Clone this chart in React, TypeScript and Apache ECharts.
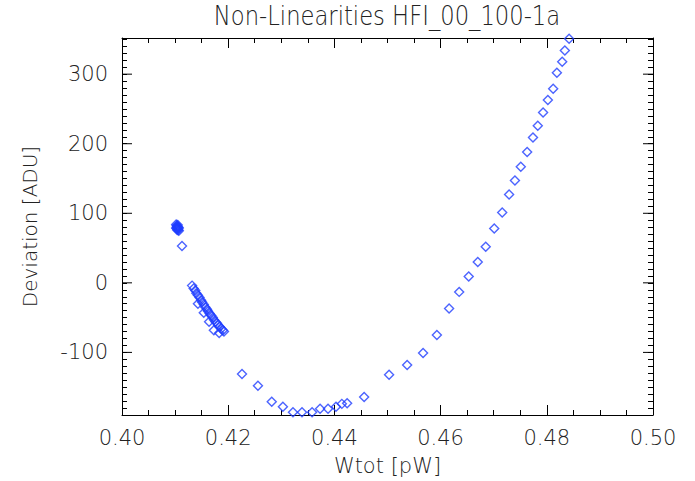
import React, { useEffect, useRef } from "react";
import * as echarts from "echarts";

const TITLE = "Non-Linearities HFI_00_100-1a";
const X_NAME = "Wtot [pW]";
const Y_NAME = "Deviation [ADU]";

const X_MIN = 0.4;
const X_MAX = 0.5;
const Y_MIN = -190;
const Y_MAX = 352;
const Y_MAJOR = [-100, 0, 100, 200, 300];

// dense (filled-looking) clump near 0.410
const clumpX = [0.4102, 0.4103, 0.4104, 0.4105, 0.4106, 0.4107, 0.4103, 0.4105, 0.4106, 0.4104, 0.4102, 0.4107, 0.4104];
const clumpY = [84, 82, 80, 78, 76, 75, 78, 83, 80, 76, 79, 79, 81];

// steep diagonal stack
const stackX = [0.4113, 0.4132, 0.4135, 0.4138, 0.414, 0.4143, 0.4146, 0.4149, 0.4151, 0.4154, 0.4157, 0.416, 0.4162, 0.4165, 0.4168, 0.4171, 0.4173, 0.4176, 0.4179, 0.4181, 0.4184, 0.4187, 0.419, 0.4192, 0.4143, 0.4154, 0.4164, 0.4173, 0.4183];
const stackY = [53, -4, -8, -11, -15, -18, -21, -25, -28, -31, -35, -38, -41, -44, -47, -50, -53, -56, -58, -61, -63, -66, -68, -70, -30, -43, -56, -68, -72];

// parabola branch
const curveX = [0.4226, 0.4256, 0.4282, 0.4303, 0.4322, 0.4339, 0.4358, 0.4373, 0.4388, 0.4403, 0.4414, 0.4424, 0.4456, 0.4503, 0.4537, 0.4567, 0.4593, 0.4616, 0.4635, 0.4653, 0.467, 0.4685, 0.4701, 0.4716, 0.4729, 0.474, 0.4751, 0.4763, 0.4774, 0.4783, 0.4793, 0.4802, 0.4812, 0.4819, 0.4829, 0.4834, 0.4842];
const curveY = [-131, -148, -171, -178, -186, -186, -186, -181, -181, -178, -174, -173, -164, -132, -118, -101, -75, -37, -13, 9, 30, 52, 78, 101, 127, 147, 167, 188, 209, 226, 245, 263, 279, 302, 318, 334, 351];

const FONT = "DejaVu Sans";
const TXT = "#222";
const BLUE = "#1f3dff";

export default function App() {
  const ref = useRef<HTMLDivElement>(null);
  useEffect(() => {
    if (!ref.current) return;
    const chart = echarts.init(ref.current, undefined, { renderer: "svg" });
    const pts: number[][] = [];
    clumpX.forEach((x, i) => pts.push([x, clumpY[i]]));
    stackX.forEach((x, i) => pts.push([x, stackY[i]]));
    curveX.forEach((x, i) => pts.push([x, curveY[i]]));

    const xCommon = {
      type: "value",
      min: X_MIN,
      max: X_MAX,
      interval: 0.02,
      axisLine: { show: true, onZero: false, lineStyle: { color: "#000", width: 1 } },
      axisTick: { show: true, inside: true, length: 10, lineStyle: { color: "#000" } },
      minorTick: { show: true, splitNumber: 4, length: 5, lineStyle: { color: "#000" } },
      splitLine: { show: false },
    };
    const yCommon = {
      type: "value",
      min: Y_MIN,
      max: Y_MAX,
      interval: 10,
      axisLine: { show: true, onZero: false, lineStyle: { color: "#000", width: 1 } },
      axisTick: { show: true, inside: true, length: 5, lineStyle: { color: "#000" } },
      splitLine: { show: false },
    };

    chart.setOption({
      animation: false,
      backgroundColor: "#fff",
      graphic: [
        {
          type: "text",
          x: 387,
          y: 2,
          scaleX: 0.84,
          style: {
            text: TITLE,
            fontFamily: FONT,
            fontWeight: 200,
            fontSize: 27,
            fill: TXT,
            align: "center",
            verticalAlign: "top",
          },
        },
      ],
      grid: { left: 122, right: 42, top: 38, bottom: 66 },
      xAxis: [
        {
          ...xCommon,
          position: "bottom",
          name: X_NAME,
          nameLocation: "middle",
          nameGap: 40,
          nameTextStyle: { fontFamily: FONT, fontWeight: 200, fontSize: 21, color: TXT },
          axisLabel: {
            margin: 12,
            fontFamily: FONT,
            fontWeight: 200,
            fontSize: 21,
            color: TXT,
            formatter: (v: number) => v.toFixed(2),
          },
        },
        { ...xCommon, position: "top", axisLabel: { show: false } },
      ],
      yAxis: [
        {
          ...yCommon,
          position: "left",
          name: Y_NAME,
          nameLocation: "middle",
          nameGap: 82,
          nameRotate: 90,
          nameTextStyle: { fontFamily: FONT, fontWeight: 200, fontSize: 20, color: TXT },
          axisLabel: {
            margin: 14,
            fontFamily: FONT,
            fontWeight: 200,
            fontSize: 21,
            color: TXT,
            showMinLabel: false,
            showMaxLabel: false,
            formatter: (v: number) => (Math.round(v) % 100 === 0 ? String(Math.round(v)) : ""),
          },
        },
        { ...yCommon, position: "right", axisLabel: { show: false } },
      ],
      series: [
        {
          type: "scatter",
          data: pts,
          symbol: "diamond",
          symbolSize: 9,
          itemStyle: { color: "rgba(0,0,0,0)", borderColor: BLUE, borderWidth: 1.4 },
          clip: false,
        },
        {
          type: "custom",
          data: Y_MAJOR.map((v) => [X_MIN, v]),
          encode: { x: 0, y: 1 },
          clip: false,
          silent: true,
          renderItem: (params: any, api: any) => {
            const v = api.value(1);
            const l = api.coord([X_MIN, v]);
            const r = api.coord([X_MAX, v]);
            return {
              type: "group",
              children: [
                { type: "line", shape: { x1: l[0], y1: l[1], x2: l[0] + 10, y2: l[1] }, style: { stroke: "#000", lineWidth: 1 } },
                { type: "line", shape: { x1: r[0], y1: r[1], x2: r[0] - 10, y2: r[1] }, style: { stroke: "#000", lineWidth: 1 } },
              ],
            };
          },
        },
      ],
    });
    return () => chart.dispose();
  }, []);
  return <div ref={ref} style={{ width: 695, height: 481, position: "absolute", left: 0, top: 0 }} />;
}
